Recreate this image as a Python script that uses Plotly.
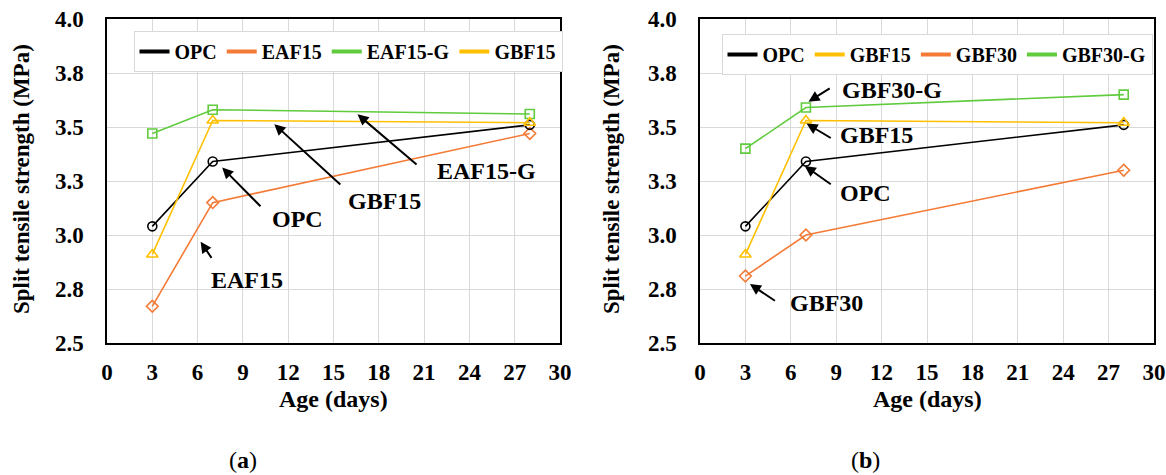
import plotly.graph_objects as go

# ---------------- data ----------------
days = [3, 7, 28]

# panel (a)
a_names = ["OPC", "EAF15", "EAF15-G", "GBF15"]
a_opc = [3.04, 3.34, 3.51]
a_eaf15 = [2.67, 3.15, 3.47]
a_eaf15g = [3.47, 3.58, 3.56]
a_gbf15 = [2.91, 3.53, 3.52]

# panel (b)
b_names = ["OPC", "GBF15", "GBF30", "GBF30-G"]
b_opc = [3.04, 3.34, 3.51]
b_gbf15 = [2.91, 3.53, 3.52]
b_gbf30 = [2.81, 3.00, 3.30]
b_gbf30g = [3.40, 3.59, 3.65]

x_ticks = [0, 3, 6, 9, 12, 15, 18, 21, 24, 27, 30]
y_ticks = [2.5, 2.75, 3.0, 3.25, 3.5, 3.75, 4.0]

# ---------------- styles ----------------
FONT = "Liberation Serif"
C_BLACK = "#000000"
C_ORANGE = "#F47B36"
C_GREEN = "#5FCB3D"
C_YELLOW = "#FFC000"

styles = {
    "OPC": (C_BLACK, "circle-open", 9),
    "EAF15": (C_ORANGE, "diamond-open", 9),
    "EAF15-G": (C_GREEN, "square-open", 9),
    "GBF15": (C_YELLOW, "triangle-up-open", 10),
    "GBF30": (C_ORANGE, "diamond-open", 9),
    "GBF30-G": (C_GREEN, "square-open", 9),
}

W, H = 1166, 475


def xp(px):
    return px / W


def yp(py):
    return 1 - py / H


# plot areas in window pixels (left, right, top, bottom)
boxA = (107, 560, 19, 343)
boxB = (700, 1154, 19, 343)


def dom(box):
    l, r, t, b = box
    return [xp(l), xp(r)], [yp(b), yp(t)]


fig = go.Figure()


def add_series(name, ys, xa, ya):
    col, sym, size = styles[name]
    fig.add_trace(go.Scatter(
        x=days, y=ys, mode="lines+markers", name=name, showlegend=False,
        xaxis=xa, yaxis=ya,
        line=dict(color=col, width=1.6),
        marker=dict(symbol=sym, size=size, color=col, line=dict(color=col, width=1.6)),
    ))


def add_legend_proxy(name, legend):
    col = styles[name][0]
    fig.add_trace(go.Scatter(
        x=[None], y=[None], mode="lines", name=name, legend=legend,
        showlegend=True, line=dict(color=col, width=4), hoverinfo="skip",
    ))


for name, ys in [("EAF15-G", a_eaf15g), ("EAF15", a_eaf15), ("OPC", a_opc), ("GBF15", a_gbf15)]:
    add_series(name, ys, "x", "y")
for name in a_names:
    add_legend_proxy(name, "legend")

for name, ys in [("GBF30-G", b_gbf30g), ("GBF30", b_gbf30), ("OPC", b_opc), ("GBF15", b_gbf15)]:
    add_series(name, ys, "x2", "y2")
for name in b_names:
    add_legend_proxy(name, "legend2")

axis_common = dict(
    showgrid=True, gridcolor="#D9D9D9", gridwidth=1,
    showline=True, linecolor="#000000", linewidth=1.5, mirror=True,
    zeroline=False, ticks="", automargin=False, ticklabeloverflow="allow",
    tickfont=dict(family=FONT, size=23, color="#000000", weight="bold"),
)

xdA, ydA = dom(boxA)
xdB, ydB = dom(boxB)

xaxis_cfg = dict(axis_common, range=[0, 30], tickvals=x_ticks, ticklabelstandoff=8)
yaxis_cfg = dict(axis_common, range=[2.5, 4.0], tickvals=y_ticks, tickformat=".1f",
                 ticklabelstandoff=17)

legend_font = dict(family=FONT, size=20, color="#000000", weight="bold")
fig.update_layout(
    width=W, height=H,
    margin=dict(l=0, r=0, t=0, b=0),
    paper_bgcolor="white", plot_bgcolor="white",
    xaxis=dict(xaxis_cfg, domain=xdA, anchor="y"),
    yaxis=dict(yaxis_cfg, domain=ydA, anchor="x"),
    xaxis2=dict(xaxis_cfg, domain=xdB, anchor="y2"),
    yaxis2=dict(yaxis_cfg, domain=ydB, anchor="x2"),
    legend=dict(
        orientation="h", x=xp(348), y=yp(31), xanchor="center", yanchor="top",
        bgcolor="white", bordercolor="#D9D9D9", borderwidth=1,
        font=legend_font, itemwidth=30, tracegroupgap=0,
    ),
    legend2=dict(
        orientation="h", x=xp(937), y=yp(34), xanchor="center", yanchor="top",
        bgcolor="white", bordercolor="#D9D9D9", borderwidth=1,
        font=legend_font, itemwidth=30, tracegroupgap=0,
    ),
    showlegend=True,
)

# ---------------- callouts (label, arrow head, arrow tail, text centre) ----------------
callouts_a = [
    ("OPC", (7.63, 3.312), (10.26, 3.126), (12.6, 3.072)),
    ("GBF15", (11.08, 3.513), (15.55, 3.227), (18.4, 3.157)),
    ("EAF15-G", (16.59, 3.559), (20.6, 3.320), (25.15, 3.296)),
    ("EAF15", (6.20, 2.969), (6.99, 2.887), (9.28, 2.794)),
]
callouts_b = [
    ("GBF30-G", (7.17, 3.617), (8.67, 3.683), (12.67, 3.672)),
    ("GBF15", (7.04, 3.516), (8.74, 3.445), (11.69, 3.461)),
    ("OPC", (6.92, 3.320), (8.74, 3.230), (10.92, 3.195)),
    ("GBF30", (3.30, 2.773), (5.05, 2.691), (8.37, 2.6875)),
]

annotations = []
for callouts, xr, yr in [(callouts_a, "x", "y"), (callouts_b, "x2", "y2")]:
    for label, head, tail, tpos in callouts:
        annotations.append(dict(
            x=head[0], y=head[1], ax=tail[0], ay=tail[1],
            xref=xr, yref=yr, axref=xr, ayref=yr, text="",
            showarrow=True, arrowhead=2, arrowsize=1.1, arrowwidth=2,
            arrowcolor="#000000", standoff=0, startstandoff=0,
        ))
        annotations.append(dict(
            x=tpos[0], y=tpos[1], xref=xr, yref=yr, text=label, showarrow=False,
            xanchor="center", yanchor="middle",
            font=dict(family=FONT, size=24, color="#000000", weight="bold"),
        ))

title_font = dict(family=FONT, size=24, color="#000000", weight="bold")
ytitle_font = dict(family=FONT, size=23, color="#000000", weight="bold")
for box, ytx in [(boxA, 21), (boxB, 611)]:
    l, r, t, b = box
    annotations.append(dict(x=(xp(l) + xp(r)) / 2, y=yp(399), xref="paper", yref="paper",
                            text="Age (days)", showarrow=False,
                            xanchor="center", yanchor="middle", font=title_font))
    annotations.append(dict(x=xp(ytx), y=yp(179), xref="paper", yref="paper",
                            text="Split tensile strength (MPa)", showarrow=False,
                            textangle=-90, xanchor="center", yanchor="middle",
                            font=ytitle_font))
for lab, cx in [("a", 243), ("b", 865)]:
    annotations.append(dict(x=xp(cx), y=yp(460), xref="paper", yref="paper",
                            text="(<b>%s</b>)" % lab, showarrow=False,
                            xanchor="center", yanchor="middle",
                            font=dict(family=FONT, size=24, color="#000000")))

fig.update_layout(annotations=annotations)

# the page's default 8px body margin would push the 1166x475 figure off the window
fig.write_html("out.html", config={"displayModeBar": False},
               post_script="document.body.style.margin='0px';")
